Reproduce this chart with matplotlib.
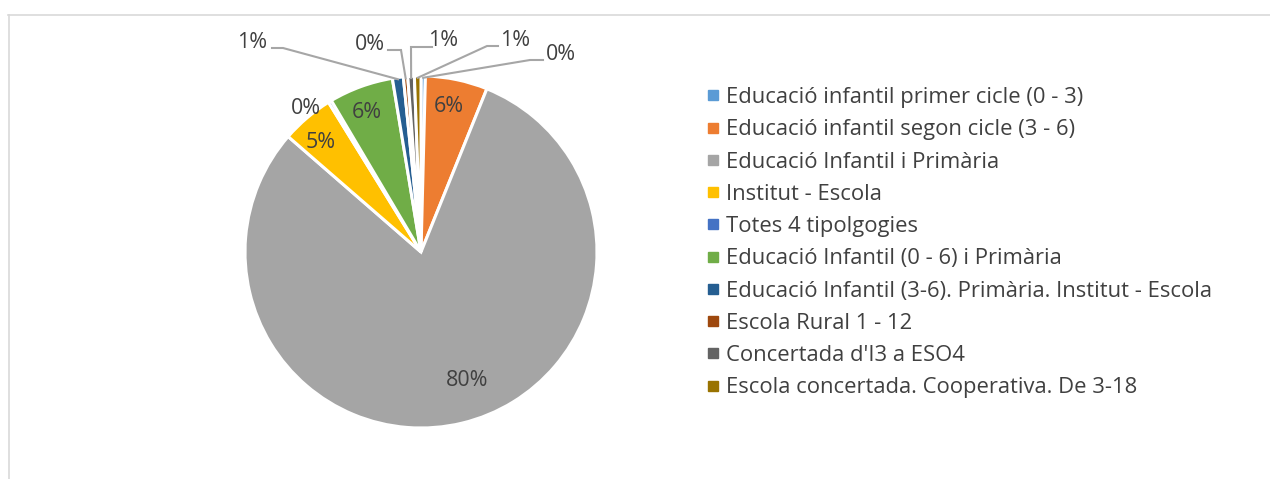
import matplotlib
matplotlib.use("Agg")
import matplotlib.pyplot as plt
from matplotlib.lines import Line2D
import numpy as np

categories = [
    "Educació infantil primer cicle (0 - 3)",
    "Educació infantil segon cicle (3 - 6)",
    "Educació Infantil i Primària",
    "Institut - Escola",
    "Totes 4 tipolgogies",
    "Educació Infantil (0 - 6) i Primària",
    "Educació Infantil (3-6). Primària. Institut - Escola",
    "Escola Rural 1 - 12",
    "Concertada d'I3 a ESO4",
    "Escola concertada. Cooperativa. De 3-18",
]
values = [0.4, 5.7, 80.2, 4.8, 0.3, 5.9, 1.0, 0.4, 0.6, 0.6]
colors = ["#5B9BD5", "#ED7D31", "#A5A5A5", "#FFC000", "#4472C4",
          "#70AD47", "#255E91", "#9E480E", "#636363", "#997300"]

W, H = 1270, 479
cx, cy, R = 421, 252, 176

# label positions in pixels (center of text), and leader-line elbow in pixels (None = no line)
label_pos = [(561, 54), (449, 106), (467, 380), (321, 143), (306, 108),
             (367, 112), (252, 42), (370, 44), (443, 40), (515, 40)]
elbow = [(530, 60), None, None, None, None, None, (283, 48), (401, 50), (411, 47), (487, 46)]
line_start = [(543, 60), None, None, None, None, None, (272, 48), (388, 50), (432, 47), (498, 46)]

FS = 15.4
LFS = 15.8
plt.rcParams['font.family'] = ['Open Sans', 'DejaVu Sans']
fig = plt.figure(figsize=(W / 100, H / 100), dpi=100)
ax = fig.add_axes([(cx - R) / W, (H - cy - R) / H, 2 * R / W, 2 * R / H])

wedges, _ = ax.pie(values, colors=colors, startangle=90, counterclock=False,
                   radius=1.0, wedgeprops=dict(edgecolor='white', linewidth=2.2))
ax.set_xlim(-1, 1)
ax.set_ylim(-1, 1)
ax.set_aspect('equal')
ax.axis('off')

def to_data(p):
    return ((p[0] - cx) / R, (cy - p[1]) / R)

total = sum(values)
for i, w in enumerate(wedges):
    pct = values[i] / total * 100
    txt = f"{int(round(pct))}%"
    x, y = to_data(label_pos[i])
    ax.text(x, y, txt, ha='center', va='center', fontsize=FS, color='#404040', clip_on=False)
    if elbow[i] is not None:
        ang = np.deg2rad((w.theta1 + w.theta2) / 2)
        ex, ey = 0.99 * np.cos(ang), 0.99 * np.sin(ang)
        sx, sy = to_data(line_start[i])
        bx, by = to_data(elbow[i])
        ax.add_line(Line2D([sx, bx, ex], [sy, by, ey], color='#A6A6A6', lw=1.5,
                           clip_on=False, solid_joinstyle='miter'))

handles = [plt.Line2D([], [], marker='s', linestyle='', markersize=6.5,
                      markerfacecolor=c, markeredgecolor=c) for c in colors]
fig.legend(handles, categories, loc='upper left', bbox_to_anchor=(706 / W, 1 - 87 / H),
           frameon=False, fontsize=LFS, labelcolor='#404040', handlelength=0.6,
           handletextpad=0.32, labelspacing=0.513, borderaxespad=0, borderpad=0)

fig.add_artist(Line2D([8 / W, 1], [1 - 14.5 / H, 1 - 14.5 / H], color='#D9D9D9', lw=1.2,
                      transform=fig.transFigure))
fig.add_artist(Line2D([8.5 / W, 8.5 / W], [0, 1 - 14.5 / H], color='#D9D9D9', lw=1.2,
                      transform=fig.transFigure))

fig.savefig("out.png", dpi=100, facecolor='white')
